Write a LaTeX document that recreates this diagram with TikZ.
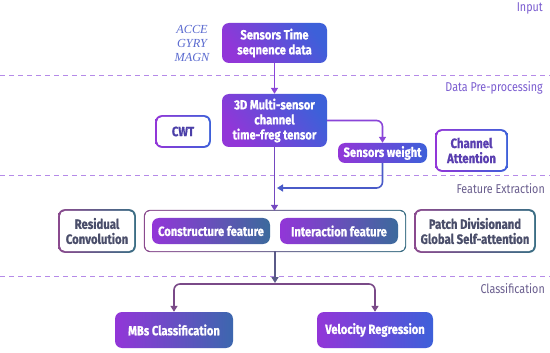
\documentclass[tikz,border=0pt]{standalone}
\usepackage{fontspec}
\setmainfont{Fira Sans}[FakeStretch=0.84, BoldFeatures={FakeBold=0.7}]
\newfontfamily\serifit{Liberation Serif}
\usetikzlibrary{arrows.meta,backgrounds}
\definecolor{pA}{HTML}{9236D8}
\definecolor{bA}{HTML}{3D60D9}
\definecolor{tA}{HTML}{3C6A9C}
\definecolor{arP}{HTML}{8A45D8}
\definecolor{arM}{HTML}{7448C0}
\definecolor{arB}{HTML}{4A5BC8}
\definecolor{arS}{HTML}{5A5A88}
\definecolor{arL}{HTML}{7A4A88}
\definecolor{dashC}{HTML}{B58AE8}
\definecolor{labA}{HTML}{7A5CD0}
\definecolor{labB}{HTML}{6A5E8E}
\definecolor{accC}{HTML}{5B6BD0}
\definecolor{cwtT}{HTML}{4B3FA8}
\definecolor{caT}{HTML}{5A3FB0}
\definecolor{rcT}{HTML}{4A4E6A}
\definecolor{brP}{HTML}{8A4A8E}
\definecolor{brT}{HTML}{3A6E84}
\newcommand\gborder[4]{%
  \begin{scope}[on background layer]
    \shade[rounded corners=6.5pt, left color=#3, right color=#4]
      ([shift={(-#2,-#2)}]#1.south west) rectangle ([shift={(#2,#2)}]#1.north east);
  \end{scope}}
\tikzset{
  fbox/.style={rounded corners=7pt, inner sep=0pt, align=center, text=white,
    font=\bfseries\fontsize{13.3}{15}\selectfont, left color=pA, right color=bA},
  fboxd/.style={fbox, shading angle=125},
  obox/.style={fill=white, rounded corners=5pt, inner sep=0pt, align=center,
    font=\bfseries\fontsize{13.5}{15}\selectfont},
  lab/.style={anchor=east, inner sep=0pt, font=\fontsize{12.8}{14}\selectfont},
  conn/.style={line width=1.6pt, rounded corners=6pt, -{Triangle[length=6pt,width=7pt]}},
  sep/.style={dashC, line width=0.8pt, dash pattern=on 5pt off 4pt}
}
\begin{document}
\begin{tikzpicture}[x=1pt,y=1pt]
\useasboundingbox (0,0) rectangle (550,-353);
\begin{scope}[on background layer]
  \fill[white] (0,0) rectangle (550,-353);
\end{scope}
% separators
\draw[sep] (0,-75) -- (550,-75);
\draw[sep] (0,-175) -- (550,-175);
\draw[sep] (0,-276) -- (550,-276);
% stage labels
\node[lab, text=labA] (lin) at (543,-8) {Input};
\node[lab, text=labA] (ldp) at (543,-88) {Data Pre-processing};
\node[lab, text=labB] (lfe) at (545,-189) {Feature Extraction};
\node[lab, text=labB] (lcl) at (545,-289) {Classification};
% input
\node[align=center, text=accC, inner sep=0pt, font=\serifit\itshape\fontsize{12.3}{14}\selectfont] (acc) at (192,-43) {ACCE\\GYRY\\MAGN};
\node[fboxd, minimum width=105, minimum height=40] (sens) at (274.5,-43) {Sensors Time\\seqnence data};
% pre-processing
\node[fboxd, minimum width=105, minimum height=53] (ten) at (274.5,-120.5) {3D Multi-sensor\\channel\\time-freg tensor};
\node[obox, text=cwtT, minimum width=52, minimum height=29] (cwt) at (183,-131.5) {CWT};
\gborder{cwt}{1.6}{pA}{bA}
\node[fbox, minimum width=89, minimum height=20] (sw) at (382.5,-153) {Sensors weight};
\node[obox, text=caT, minimum width=69, minimum height=39] (ca) at (471.5,-150.5) {Channel\\Attention};
\gborder{ca}{1.6}{pA}{bA}
% feature extraction
\node[obox, minimum width=260, minimum height=40] (cont) at (275,-231) {};
\gborder{cont}{1}{brP}{brT}
\node[fbox, right color=tA, minimum width=118, minimum height=26] (cf) at (211,-231) {Constructure feature};
\node[fbox, right color=tA, minimum width=118, minimum height=26] (if) at (339,-231) {Interaction feature};
\node[obox, text=rcT, minimum width=74, minimum height=40] (rc) at (97,-231) {Residual\\Convolution};
\gborder{rc}{1.6}{brP}{brT}
\node[obox, text=rcT, minimum width=118, minimum height=40] (pd) at (475,-231) {Patch Divisionand\\Global Self-attention};
\gborder{pd}{1.6}{brP}{brT}
% classification
\node[fbox, right color=tA!70!bA, minimum width=118, minimum height=36] (mbs) at (174,-330) {MBs Classification};
\node[fbox, minimum width=116, minimum height=36] (vr) at (375,-330) {Velocity Regression};
% connectors
\coordinate (j) at (277,-188);
\coordinate (split) at (275,-284);
\draw[conn, arP] (sens.south) -- (ten.north);
\draw[conn, arP] (ten.east) -| (sw.north);
\draw[conn, arM] (ten.south) -- (ten.south |- cont.north);
\draw[conn, arB] (sw.south) |- (j);
\draw[conn, arS] (cont.south) -- ([yshift=1pt]split);
\draw[conn, arL] (split) -| (mbs.north);
\draw[conn, arL] (split) -| (vr.north);
\end{tikzpicture}
\end{document}
